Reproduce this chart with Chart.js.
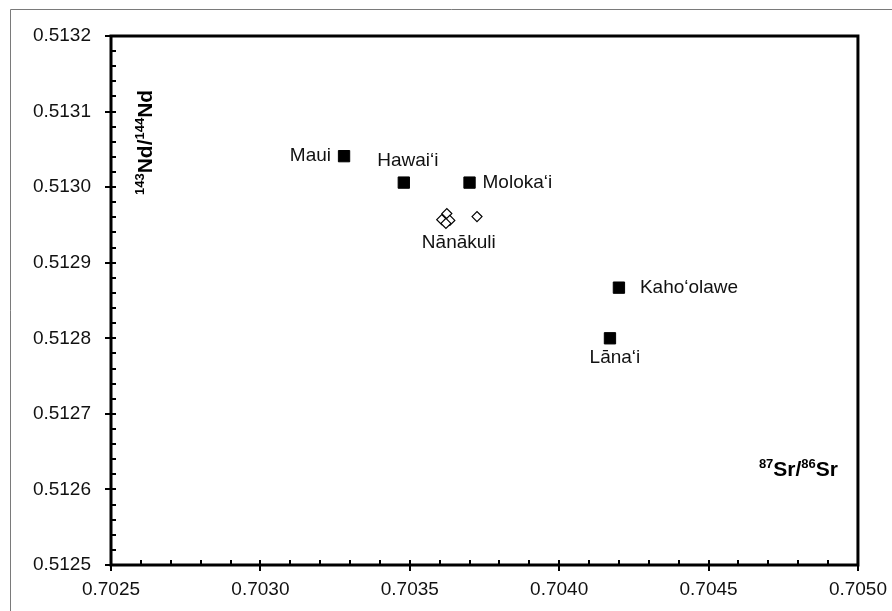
<!DOCTYPE html>
<html>
<head>
<meta charset="utf-8">
<script src="https://cdn.jsdelivr.net/npm/chart.js@4.4.1/dist/chart.umd.min.js"></script>
<style>
  body { margin: 0; background: #fff; }
  canvas { display: block; }
</style>
</head>
<body>
<canvas id="myChart" width="892" height="611"></canvas>
<script>
// island end-members
var islands = ["Maui", "Hawai\u2018i", "Moloka\u2018i", "Kaho\u2018olawe", "L\u0101na\u2018i"];
var islandSr = [0.70328, 0.70348, 0.70370, 0.70420, 0.70417];
var islandNd = [0.513041, 0.513006, 0.513006, 0.512867, 0.512800];

// Nanakuli samples
var nanakuliSr = [0.703624, 0.703607, 0.703634, 0.703621, 0.703725];
var nanakuliNd = [0.512965, 0.512957, 0.512956, 0.512952, 0.512961];
var nanakuliName = "N\u0101n\u0101kuli";

// axes
var xTicks = [0.7025, 0.7030, 0.7035, 0.7040, 0.7045, 0.7050];
var yTicks = [0.5125, 0.5126, 0.5127, 0.5128, 0.5129, 0.5130, 0.5131, 0.5132];

var FONT = "'Liberation Sans', Arial, sans-serif";

// where each label sits relative to its point (px)
var labelPlace = [
  { align: "right",  dx: -13, dy: 0 },
  { align: "center", dx: 4,   dy: -22 },
  { align: "left",   dx: 13,  dy: 0 },
  { align: "left",   dx: 21,  dy: 0 },
  { align: "center", dx: 5,   dy: 19 }
];
var nanakuliPlace = { align: "center", dx: 12, dy: 29 };

function isMajor(v, majors) {
  for (var i = 0; i < majors.length; i++) {
    if (Math.abs(v - majors[i]) < 1e-9) return true;
  }
  return false;
}

function drawSupText(ctx, parts, x, y) {
  var cx = x;
  parts.forEach(function (p) {
    ctx.font = p.sup ? "bold 13px " + FONT : "bold 21px " + FONT;
    ctx.fillText(p.t, cx, p.sup ? y - 8 : y);
    cx += ctx.measureText(p.t).width;
  });
  return cx - x;
}
function measureSup(ctx, parts) {
  var w = 0;
  parts.forEach(function (p) {
    ctx.font = p.sup ? "bold 13px " + FONT : "bold 21px " + FONT;
    w += ctx.measureText(p.t).width;
  });
  return w;
}

var framePlugin = {
  id: "frame",
  beforeDraw: function (chart) {
    var ctx = chart.ctx;
    ctx.save();
    ctx.fillStyle = "#fff";
    ctx.fillRect(0, 0, chart.width, chart.height);
    ctx.strokeStyle = "#7a7a7a";
    ctx.lineWidth = 1;
    ctx.beginPath();
    ctx.moveTo(10.5, chart.height);
    ctx.lineTo(10.5, 9.5);
    ctx.lineTo(chart.width, 9.5);
    ctx.stroke();
    ctx.restore();
  },
  afterDatasetsDraw: function (chart) {
    var ctx = chart.ctx, a = chart.chartArea;
    var xs = chart.scales.x, ys = chart.scales.y;
    ctx.save();
    // box
    ctx.strokeStyle = "#000";
    ctx.lineWidth = 3;
    ctx.strokeRect(a.left, a.top, a.right - a.left, a.bottom - a.top);
    // tick marks
    ctx.lineWidth = 2;
    ctx.beginPath();
    xs.ticks.forEach(function (t) {
      var px = Math.round(xs.getPixelForValue(t.value));
      if (isMajor(t.value, xTicks)) {
        ctx.moveTo(px, a.bottom - 5); ctx.lineTo(px, a.bottom + 6);
      } else {
        ctx.moveTo(px, a.bottom - 5); ctx.lineTo(px, a.bottom);
      }
    });
    ys.ticks.forEach(function (t) {
      var py = Math.round(ys.getPixelForValue(t.value));
      if (isMajor(t.value, yTicks)) {
        ctx.moveTo(a.left - 6, py); ctx.lineTo(a.left + 5, py);
      } else {
        ctx.moveTo(a.left, py); ctx.lineTo(a.left + 5, py);
      }
    });
    ctx.stroke();

    // point labels
    ctx.fillStyle = "#111";
    ctx.font = "19px " + FONT;
    ctx.textBaseline = "middle";
    islands.forEach(function (name, i) {
      var p = labelPlace[i];
      ctx.textAlign = p.align;
      ctx.fillText(name, xs.getPixelForValue(islandSr[i]) + p.dx, ys.getPixelForValue(islandNd[i]) + p.dy);
    });
    ctx.textAlign = nanakuliPlace.align;
    ctx.fillText(nanakuliName, xs.getPixelForValue(nanakuliSr[0]) + nanakuliPlace.dx, ys.getPixelForValue(nanakuliNd[0]) + nanakuliPlace.dy);

    // axis titles
    ctx.fillStyle = "#000";
    ctx.textAlign = "left";
    ctx.textBaseline = "alphabetic";
    var xt = [{ t: "87", sup: true }, { t: "Sr/" }, { t: "86", sup: true }, { t: "Sr" }];
    drawSupText(ctx, xt, 838 - measureSup(ctx, xt), 476);
    ctx.translate(152, 195);
    ctx.rotate(-Math.PI / 2);
    drawSupText(ctx, [{ t: "143", sup: true }, { t: "Nd/" }, { t: "144", sup: true }, { t: "Nd" }], 0, 0);
    ctx.restore();
  }
};

var ctx = document.getElementById("myChart");
new Chart(ctx, {
  type: "scatter",
  data: {
    datasets: [{
      data: islandSr.map(function (v, i) { return { x: v, y: islandNd[i] }; }),
      pointStyle: "rect",
      pointRadius: 8,
      pointHoverRadius: 8,
      backgroundColor: "#000",
      borderColor: "#000",
      borderWidth: 1
    }, {
      data: nanakuliSr.map(function (v, i) { return { x: v, y: nanakuliNd[i] }; }),
      pointStyle: "rectRot",
      pointRadius: 5,
      pointHoverRadius: 5,
      backgroundColor: "#fff",
      borderColor: "#000",
      borderWidth: 1.2
    }]
  },
  options: {
    responsive: false,
    animation: false,
    layout: { padding: { left: 0, top: 36, right: 27, bottom: 0 } },
    plugins: { legend: { display: false }, tooltip: { enabled: false } },
    scales: {
      x: {
        type: "linear",
        min: xTicks[0],
        max: xTicks[xTicks.length - 1],
        grid: { display: false },
        border: { display: false },
        afterFit: function (s) { s.height = 46; },
        ticks: {
          stepSize: 0.0001,
          autoSkip: false,
          maxRotation: 0,
          padding: 5,
          color: "#111",
          font: { size: 19, family: FONT },
          callback: function (v) { return isMajor(v, xTicks) ? v.toFixed(4) : ""; }
        }
      },
      y: {
        type: "linear",
        min: yTicks[0],
        max: yTicks[yTicks.length - 1],
        grid: { display: false },
        border: { display: false },
        afterFit: function (s) { s.width = 111; },
        ticks: {
          stepSize: 0.00002,
          autoSkip: false,
          padding: 12,
          color: "#111",
          font: { size: 19, family: FONT },
          callback: function (v) { return isMajor(v, yTicks) ? v.toFixed(4) : ""; }
        }
      }
    }
  },
  plugins: [framePlugin]
});
</script>
</body>
</html>
